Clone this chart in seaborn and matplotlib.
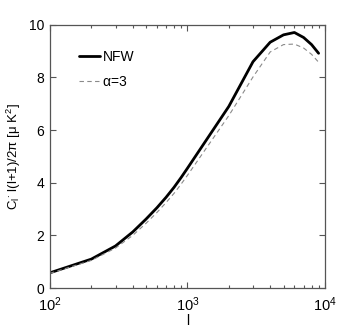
import numpy as np
import pandas as pd
import matplotlib
matplotlib.use("Agg")
import matplotlib.pyplot as plt
import seaborn as sns
from matplotlib.ticker import LogLocator, NullFormatter

# multipole l and C_l l(l+1)/2pi in muK^2
ell = [100, 200, 300, 400, 500, 600, 700, 800, 900, 1000,
       2000, 3000, 4000, 5000, 6000, 7000, 8000, 9000]
cl_nfw = [0.58, 1.10, 1.60, 2.13, 2.62, 3.05, 3.45, 3.83, 4.20, 4.55,
          6.90, 8.60, 9.34, 9.62, 9.71, 9.52, 9.25, 8.92]
cl_alpha3 = [0.56, 1.05, 1.52, 2.00, 2.46, 2.87, 3.25, 3.60, 3.95, 4.28,
             6.55, 8.02, 8.97, 9.25, 9.27, 9.12, 8.88, 8.58]
series_names = ["NFW", r"$\alpha$=3"]

df = pd.DataFrame({
    "l": ell * 2,
    "cl": cl_nfw + cl_alpha3,
    "model": [series_names[0]] * len(ell) + [series_names[1]] * len(ell),
})

sns.set_style("white")
plt.rcParams["font.family"] = ["Liberation Sans", "DejaVu Sans"]
plt.rcParams["mathtext.fontset"] = "custom"
plt.rcParams["mathtext.rm"] = "Liberation Sans"
plt.rcParams["mathtext.it"] = "Liberation Sans:italic"
plt.rcParams["mathtext.default"] = "regular"
plt.rcParams["text.color"] = "black"
plt.rcParams["axes.labelcolor"] = "black"
plt.rcParams["xtick.color"] = "black"
plt.rcParams["ytick.color"] = "black"

fig = plt.figure(figsize=(3.59, 3.27), dpi=100)
ax = fig.add_axes([0.139, 0.119, 0.766, 0.805])

sns.lineplot(data=df[df.model == series_names[0]], x="l", y="cl", ax=ax,
             color="black", lw=2.0, label=series_names[0])
sns.lineplot(data=df[df.model == series_names[1]], x="l", y="cl", ax=ax,
             color="#8a8a8a", lw=0.8, linestyle=(0, (4, 3)), label=series_names[1])

ax.set_xscale("log")
ax.set_xlim(100, 10000)
ax.set_ylim(0, 10)
ax.set_yticks([0, 2, 4, 6, 8, 10])
ax.xaxis.set_minor_locator(LogLocator(base=10, subs=np.arange(2, 10), numticks=20))
ax.xaxis.set_minor_formatter(NullFormatter())

ax.set_xlabel("l", fontsize=10, labelpad=0)
ax.set_ylabel(r"C$_l$$^{\cdot}$ l(l+1)/2π [μ K$^2$]", fontsize=9.5, labelpad=4)

for s in ax.spines.values():
    s.set_color("#555555")
    s.set_linewidth(0.9)
ax.tick_params(which="both", direction="in", top=True, right=True,
               bottom=True, left=True, color="#555555", labelcolor="black",
               width=0.8)
ax.tick_params(which="major", length=4)
ax.tick_params(which="minor", length=2.5)
ax.tick_params(axis="y", pad=4, labelsize=10)
ax.tick_params(axis="x", pad=5, labelsize=10.5)

ax.legend(loc="upper left", bbox_to_anchor=(0.085, 0.925), frameon=False,
          fontsize=10, handlelength=1.5, handletextpad=0.2, labelspacing=0.75,
          borderaxespad=0)

fig.savefig("out.png", dpi=100)
